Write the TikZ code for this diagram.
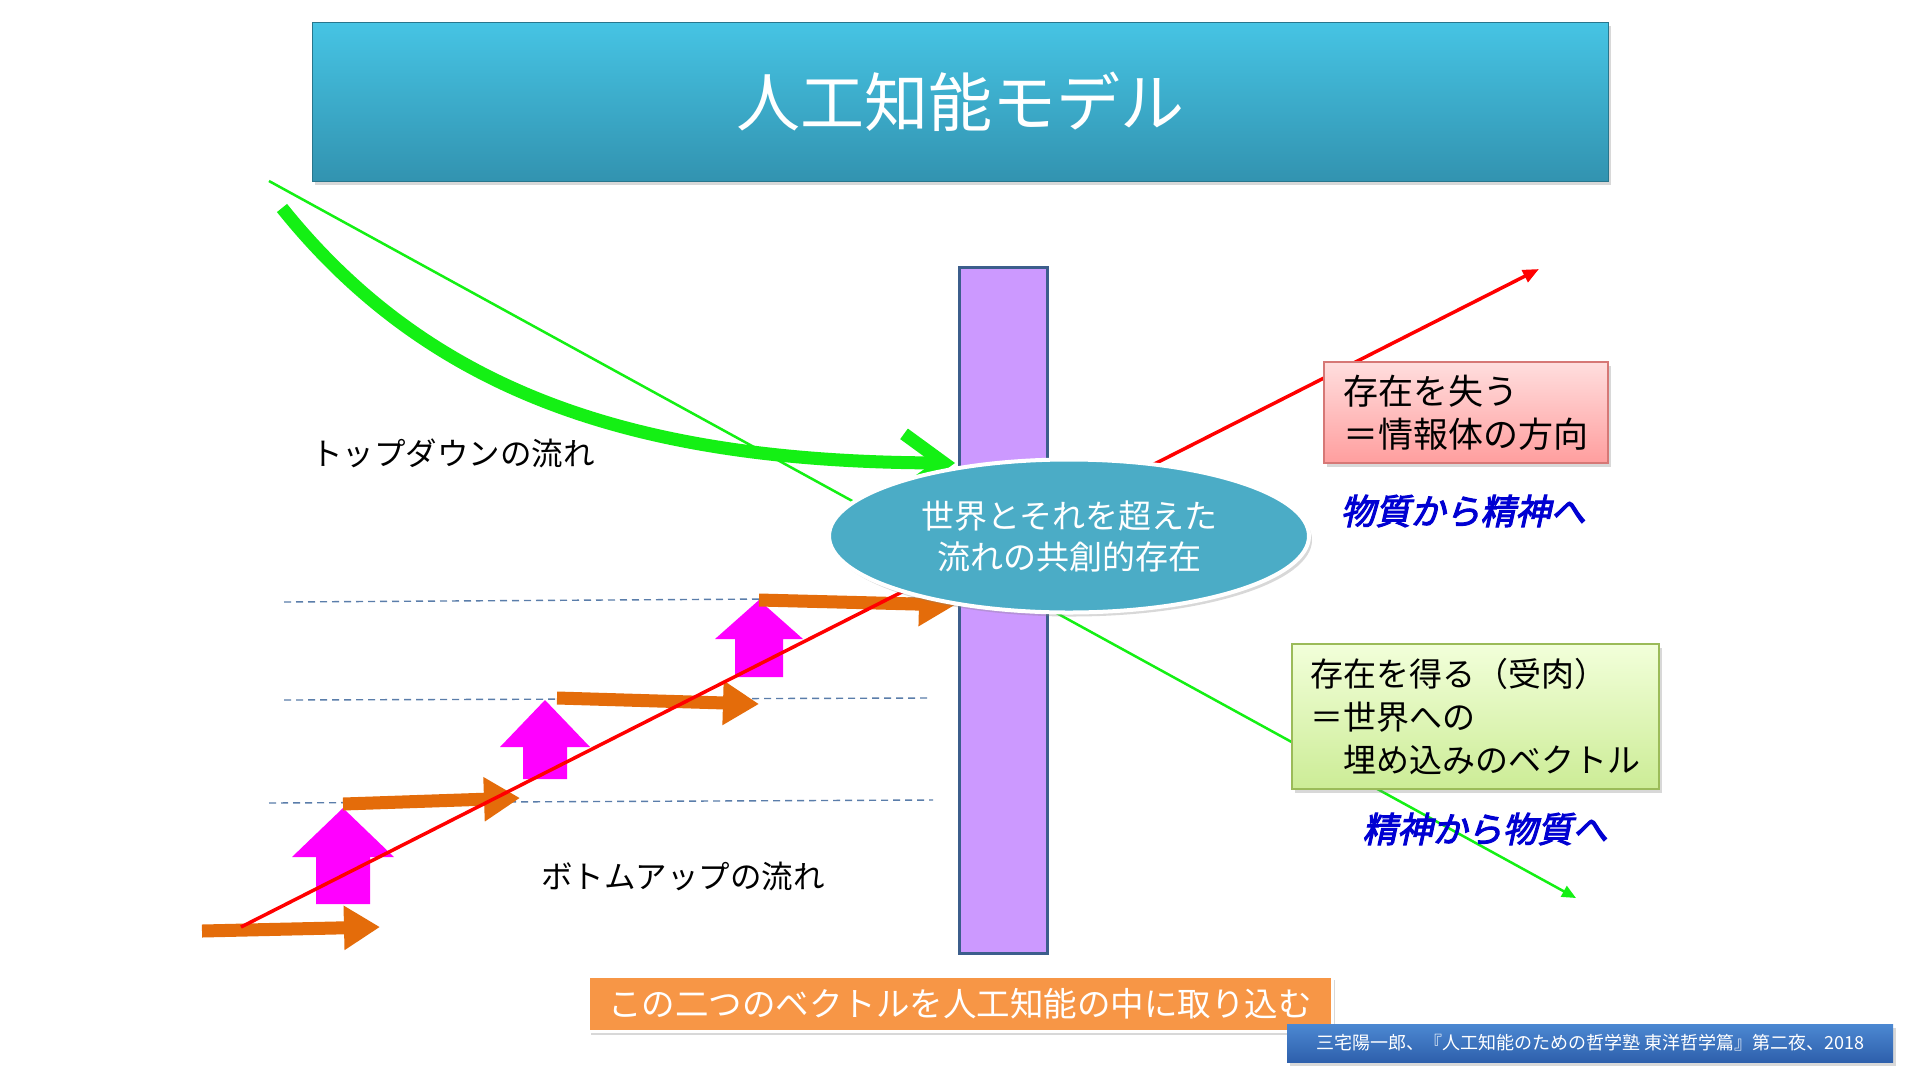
\documentclass[tikz,border=0pt]{standalone}
\usepackage{fontspec}
\setmainfont{Noto Sans CJK JP}
\newfontfamily\jpbi[FakeSlant=0.22,FakeBold=3]{Noto Sans CJK JP}
\usetikzlibrary{arrows.meta,shapes.geometric,shadows}
\definecolor{titletop}{RGB}{70,196,228}
\definecolor{titlebot}{RGB}{50,147,176}
\definecolor{barfill}{RGB}{204,153,255}
\definecolor{barline}{RGB}{60,94,140}
\definecolor{ellfill}{RGB}{75,172,198}
\definecolor{pinktop}{RGB}{255,222,222}
\definecolor{pinkbot}{RGB}{255,158,158}
\definecolor{pinkline}{RGB}{214,120,118}
\definecolor{greentop}{RGB}{242,255,218}
\definecolor{greenbot}{RGB}{204,236,150}
\definecolor{greenline}{RGB}{155,187,89}
\definecolor{orbox}{RGB}{247,150,70}
\definecolor{citetop}{RGB}{76,136,210}
\definecolor{citebot}{RGB}{46,96,172}
\definecolor{orarrow}{RGB}{228,108,10}
\definecolor{dashcol}{RGB}{90,125,170}
\definecolor{lime}{RGB}{20,240,20}
\definecolor{labelblue}{RGB}{0,0,210}
\definecolor{magup}{RGB}{255,0,255}
\tikzset{
  softshadow/.style={drop shadow={opacity=0.3,shadow xshift=3pt,shadow yshift=-4pt}},
  dashline/.style={draw=dashcol,line width=1.4pt,dash pattern=on 7pt off 5pt},
  oarrow/.style={draw=orarrow,line width=13pt,-{Triangle[length=36pt,width=42pt]}},
  magfill/.style={fill=magup,draw=none},
  fsA/.style={font=\fontsize{33}{41}\selectfont},
  bluelab/.style={text=labelblue,font=\fontsize{35}{42}\jpbi},
  blacklab/.style={text=black,font=\fontsize{31.5}{38}\selectfont},
}
\newcommand\magup[6]{%
  \fill[magfill] (#1-#5,#2) -- (#1-#5,#3) -- (#1-#6,#3) -- (#1,#4) -- (#1+#6,#3) -- (#1+#5,#3) -- (#1+#5,#2) -- cycle;}
\begin{document}
\begin{tikzpicture}[x=1pt,y=-1pt]
\useasboundingbox (0,0) rectangle (1920,1080);
\fill[white] (0,0) rectangle (1920,1080);

% title
\node[name=title, minimum width=1296pt, minimum height=159pt, inner sep=0pt,
  top color=titletop, bottom color=titlebot, draw=titlebot!80!black, line width=1pt,
  softshadow, text=white, font=\fontsize{64}{70}\selectfont] at (960,101.5) {人工知能モデル};

% purple bar
\node[name=bar, minimum width=88pt, minimum height=686pt, inner sep=0pt,
  fill=barfill, draw=barline, line width=3pt] at (1003,610) {};

% dashed level lines
\coordinate (d1a) at (284,602); \coordinate (d1b) at (931,598);
\coordinate (d2a) at (284,700); \coordinate (d2b) at (931,698);
\coordinate (d3a) at (269,803); \coordinate (d3b) at (933,800);
\draw[dashline] (d1a) -- (d1b);
\draw[dashline] (d2a) -- (d2b);
\draw[dashline] (d3a) -- (d3b);

% magenta up arrows
\magup{343}{904}{857}{808}{27}{51}
\magup{545}{779}{747}{700}{22}{45}
\magup{759}{677}{639}{600}{24}{44}

% orange arrows
\coordinate (o1a) at (202,931); \coordinate (o1b) at (380,927);
\coordinate (o2a) at (343,804); \coordinate (o2b) at (520,798);
\coordinate (o3a) at (557,698); \coordinate (o3b) at (759,704);
\coordinate (o4a) at (759,600); \coordinate (o4b) at (955,605);
\draw[oarrow] (o1a) -- (o1b);
\draw[oarrow] (o2a) -- (o2b);
\draw[oarrow] (o3a) -- (o3b);
\draw[oarrow] (o4a) -- (o4b);

% red line
\coordinate (rA) at (241,927); \coordinate (rB) at (1539,269);
\draw[red,line width=3.5pt,-{Triangle[length=16pt,width=13pt]}] (rA) -- (rB);

% thin green line
\coordinate (gA) at (269,181); \coordinate (gB) at (1576,898);
\draw[lime,line width=2.5pt,-{Triangle[length=14pt,width=12pt]}] (gA) -- (gB);

% thick green curved arrow
\coordinate (tA) at (282,208); \coordinate (tB) at (955,463);
\draw[lime,line width=13pt,-{Straight Barb[length=40pt,width=58pt]}]
  (tA) .. controls (432,395) and (640,462) .. (tB);

% central ellipse
\node[name=core, ellipse, minimum width=480pt, minimum height=153pt, inner sep=0pt,
  fill=ellfill, draw=white, line width=4pt, softshadow, text=white, align=center,
  fsA] at (1069,536) {世界とそれを超えた\\流れの共創的存在};

% pink box
\node[name=lose, minimum width=284pt, minimum height=101pt, inner sep=0pt,
  top color=pinktop, bottom color=pinkbot, draw=pinkline, line width=1.5pt,
  softshadow, align=left, font=\fontsize{35}{43}\selectfont] at (1466,412.5)
  {存在を失う\\＝情報体の方向};

% green box
\node[name=gain, minimum width=367pt, minimum height=145pt, inner sep=0pt,
  top color=greentop, bottom color=greenbot, draw=greenline, line width=1.5pt,
  softshadow, align=left, font=\fontsize{33}{43}\selectfont] at (1475.5,716.5)
  {存在を得る（受肉）\\＝世界への\\　埋め込みのベクトル};

% blue labels
\node[name=up, bluelab] at (1463,511) {物質から精神へ};
\node[name=down, bluelab] at (1485,829) {精神から物質へ};

% flow labels
\node[name=topdown, blacklab] at (453,453) {トップダウンの流れ};
\node[name=bottomup, blacklab] at (683,876) {ボトムアップの流れ};

% bottom orange box
\node[name=bottom, minimum width=744pt, minimum height=55pt, inner sep=0pt,
  fill=orbox, draw=white, line width=3pt, softshadow, text=white,
  font=\fontsize{33.5}{40}\selectfont] at (960,1003.5) {この二つのベクトルを人工知能の中に取り込む};

% citation
\node[name=cite, minimum width=606pt, minimum height=38pt, inner sep=0pt,
  top color=citetop, bottom color=citebot, softshadow, text=white,
  font=\fontsize{18}{22}\selectfont] at (1590,1043)
  {三宅陽一郎、『人工知能のための哲学塾 東洋哲学篇』第二夜、2018};
\end{tikzpicture}
\end{document}
